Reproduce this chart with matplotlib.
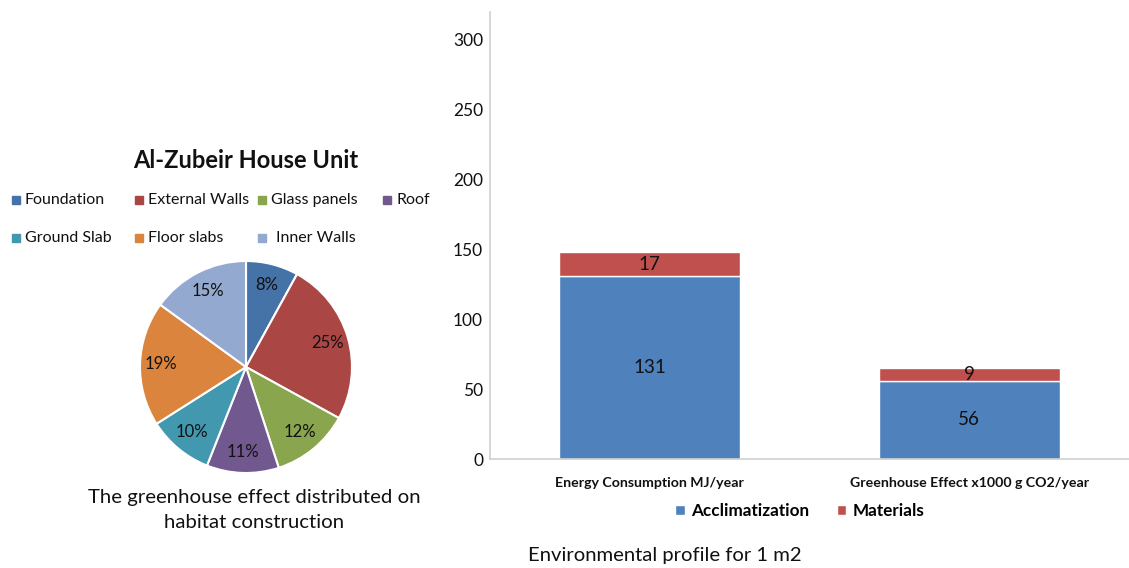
import matplotlib.pyplot as plt
from matplotlib.patches import Rectangle
import numpy as np

plt.rcParams['font.family'] = ['Lato', 'DejaVu Sans']

# Greenhouse effect share per building element (percent)
pie_labels = ['Foundation', 'External Walls', 'Glass panels', 'Roof',
              'Ground Slab', 'Floor slabs', 'Inner Walls']
pie_values = [8, 25, 12, 11, 10, 19, 15]
pie_colors = ['#4572A7', '#AA4643', '#89A54E', '#71588F',
              '#4198AF', '#DB843D', '#93A9CF']

# Environmental profile per m2
categories = ['Energy Consumption MJ/year', 'Greenhouse Effect x1000 g CO2/year']
acclimatization = [131, 56]
materials = [17, 9]
bar_colors = ['#4F81BD', '#C0504D']

W, H = 1129, 568
fig = plt.figure(figsize=(W / 100, H / 100), dpi=100)

# ---------------- pie chart ----------------
cx, cy, r = 246, 367, 106
ax1 = fig.add_axes([(cx - r) / W, (H - cy - r) / H, 2 * r / W, 2 * r / H])
wedges, texts, autotexts = ax1.pie(
    pie_values, colors=pie_colors, startangle=90, counterclock=False,
    autopct='%d%%', pctdistance=0.8,
    wedgeprops=dict(edgecolor='white', linewidth=1.5),
    textprops=dict(fontsize=12, color='#111111'))
ax1.set_xlim(-1, 1)
ax1.set_ylim(-1, 1)
ax1.set_aspect('equal')
ax1.axis('off')

fig.text(246 / W, 1 - 160 / H, 'Al-Zubeir House Unit', ha='center', va='center',
         fontsize=17, fontweight='bold', color='#111111')

# legend laid out in two rows of four columns
box_x = [12, 135, 258, 383]
row_y = [200, 238]
for i, (lab, col) in enumerate(zip(pie_labels, pie_colors)):
    row, c = divmod(i, 4)
    x0, y0 = box_x[c], row_y[row]
    fig.patches.append(Rectangle((x0 / W, 1 - (y0 + 4) / H), 8 / W, 8 / H,
                                 transform=fig.transFigure, color=col))
    tx = x0 + (18 if lab == 'Inner Walls' else 13)
    fig.text(tx / W, 1 - y0 / H, lab, ha='left', va='center',
             fontsize=11.5, color='#111111')

fig.text(254 / W, 1 - 497 / H, 'The greenhouse effect distributed on',
         ha='center', va='center', fontsize=14.7, color='#111111')
fig.text(254 / W, 1 - 523 / H, 'habitat construction',
         ha='center', va='center', fontsize=14.7, color='#111111')

# ---------------- stacked bars ----------------
ax2 = fig.add_axes([490 / W, (H - 459) / H, (W - 490) / W, 447 / H])
x = np.arange(len(categories))
bw = 0.566
b1 = ax2.bar(x, acclimatization, bw, color=bar_colors[0], edgecolor='white',
             linewidth=1, label='Acclimatization')
b2 = ax2.bar(x, materials, bw, bottom=acclimatization, color=bar_colors[1],
             edgecolor='white', linewidth=1, label='Materials')
ax2.bar_label(b1, labels=[str(v) for v in acclimatization], label_type='center',
              fontsize=13.5, color='#111111')
ax2.bar_label(b2, labels=[str(v) for v in materials], label_type='center',
              fontsize=13.5, color='#111111')

ax2.set_xlim(-0.5, 1.5)
ax2.set_ylim(0, 320)
ax2.set_yticks(np.arange(0, 301, 50))
ax2.set_xticks(x)
ax2.set_xticklabels(categories, fontweight='bold', color='#111111')
ax2.tick_params(axis='both', length=0, labelsize=12.5, colors='#111111')
ax2.tick_params(axis='x', pad=13, labelsize=10.2)
ax2.tick_params(axis='y', pad=5)
for side in ['top', 'right']:
    ax2.spines[side].set_visible(False)
for side in ['left', 'bottom']:
    ax2.spines[side].set_color('#D0D0D0')
    ax2.spines[side].set_linewidth(1.2)

leg = ax2.legend(loc='center', bbox_to_anchor=((800 - 490) / (W - 490), -52 / 447),
                 ncol=2, frameon=False, handlelength=0.55, handleheight=0.6,
                 handletextpad=0.4, columnspacing=1.6,
                 prop=dict(size=12.3, weight='bold'))

fig.text(665 / W, 1 - 556 / H, 'Environmental profile for 1 m2', ha='center',
         va='center', fontsize=14.6, color='#111111')

fig.savefig('out.png', dpi=100)
